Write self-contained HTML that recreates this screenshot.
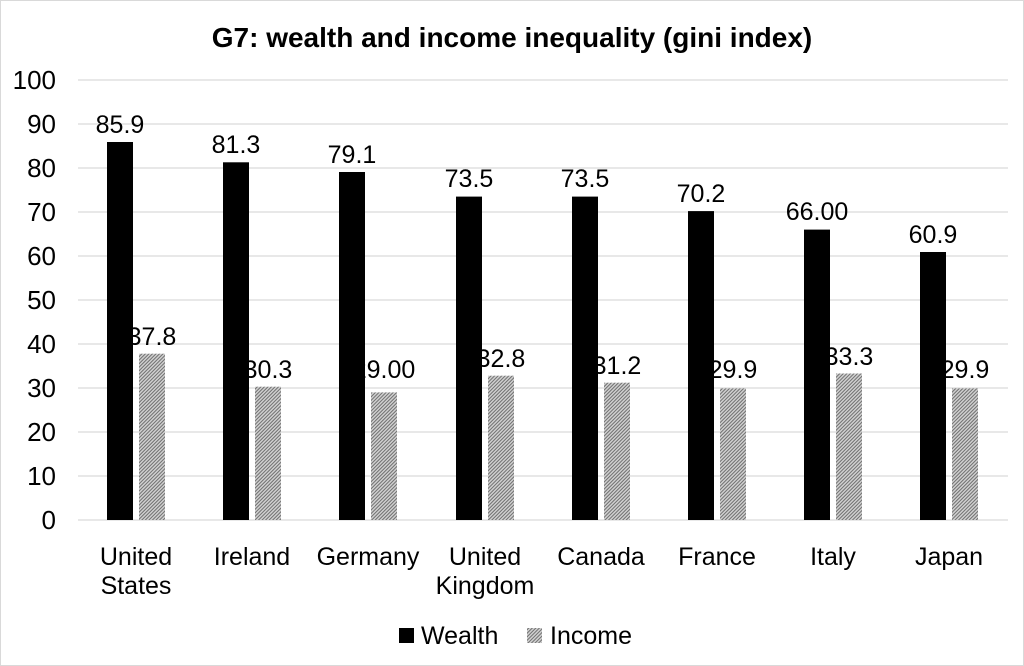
<!DOCTYPE html>
<html><head><meta charset="utf-8"><style>
html,body{margin:0;padding:0;background:#fff}
svg{display:block;font-family:"Liberation Sans",sans-serif}
</style></head><body>
<svg width="1024" height="666" viewBox="0 0 1024 666" xmlns="http://www.w3.org/2000/svg">
<defs>
<pattern id="h" width="2.5" height="2.5" patternUnits="userSpaceOnUse" patternTransform="rotate(45)">
<rect width="2.5" height="2.5" fill="#d0d0d0"/><rect width="1" height="2.5" fill="#707070"/>
</pattern>
</defs>
<rect x="0.5" y="0.5" width="1023" height="665" fill="#fff" stroke="#d9d9d9"/>
<text x="512" y="47" text-anchor="middle" font-size="28" font-weight="bold">G7: wealth and income inequality (gini index)</text>
<g stroke="#d9d9d9" stroke-width="1.3">
<line x1="78" x2="1008" y1="80" y2="80"/><line x1="78" x2="1008" y1="124" y2="124"/>
<line x1="78" x2="1008" y1="168" y2="168"/><line x1="78" x2="1008" y1="212" y2="212"/>
<line x1="78" x2="1008" y1="256" y2="256"/><line x1="78" x2="1008" y1="300" y2="300"/>
<line x1="78" x2="1008" y1="344" y2="344"/><line x1="78" x2="1008" y1="388" y2="388"/>
<line x1="78" x2="1008" y1="432" y2="432"/><line x1="78" x2="1008" y1="476" y2="476"/>
<line x1="78" x2="1008" y1="520" y2="520"/>
</g>
<g font-size="26" text-anchor="end">
<text x="56" y="89">100</text><text x="56" y="133">90</text><text x="56" y="177">80</text>
<text x="56" y="221">70</text><text x="56" y="265">60</text><text x="56" y="309">50</text>
<text x="56" y="353">40</text><text x="56" y="397">30</text><text x="56" y="441">20</text>
<text x="56" y="485">10</text><text x="56" y="529">0</text>
</g>
<g font-size="25" text-anchor="middle">
<rect x="107" y="142.0" width="26" height="378.0"/><rect x="139" y="353.7" width="26" height="166.3" fill="url(#h)"/>
<text x="120" y="133">85.9</text><text x="152" y="345">37.8</text>
<rect x="223" y="162.3" width="26" height="357.7"/><rect x="255" y="386.7" width="26" height="133.3" fill="url(#h)"/>
<text x="236" y="153">81.3</text><text x="268" y="378">30.3</text>
<rect x="339" y="172.0" width="26" height="348.0"/><rect x="371" y="392.4" width="26" height="127.6" fill="url(#h)"/>
<text x="352" y="163">79.1</text><text x="384" y="378">29.00</text>
<rect x="456" y="196.6" width="26" height="323.4"/><rect x="488" y="375.7" width="26" height="144.3" fill="url(#h)"/>
<text x="469" y="187">73.5</text><text x="501" y="367">32.8</text>
<rect x="572" y="196.6" width="26" height="323.4"/><rect x="604" y="382.7" width="26" height="137.3" fill="url(#h)"/>
<text x="585" y="187">73.5</text><text x="617" y="374">31.2</text>
<rect x="688" y="211.1" width="26" height="308.9"/><rect x="720" y="388.4" width="26" height="131.6" fill="url(#h)"/>
<text x="701" y="202">70.2</text><text x="733" y="378">29.9</text>
<rect x="804" y="229.6" width="26" height="290.4"/><rect x="836" y="373.5" width="26" height="146.5" fill="url(#h)"/>
<text x="817" y="220">66.00</text><text x="849" y="365">33.3</text>
<rect x="920" y="252.0" width="26" height="268.0"/><rect x="952" y="388.4" width="26" height="131.6" fill="url(#h)"/>
<text x="933" y="243">60.9</text><text x="965" y="378">29.9</text>
</g>
<g font-size="25" text-anchor="middle">
<text x="136" y="565">United</text><text x="136" y="594">States</text>
<text x="252" y="565">Ireland</text>
<text x="368" y="565">Germany</text>
<text x="485" y="565">United</text><text x="485" y="594">Kingdom</text>
<text x="601" y="565">Canada</text>
<text x="717" y="565">France</text>
<text x="833" y="565">Italy</text>
<text x="949" y="565">Japan</text>
</g>
<rect x="399" y="628" width="15" height="15"/>
<text x="421" y="644" font-size="25">Wealth</text>
<rect x="527" y="628" width="15" height="15" fill="url(#h)"/>
<text x="550" y="644" font-size="25">Income</text>
</svg>
</body></html>
